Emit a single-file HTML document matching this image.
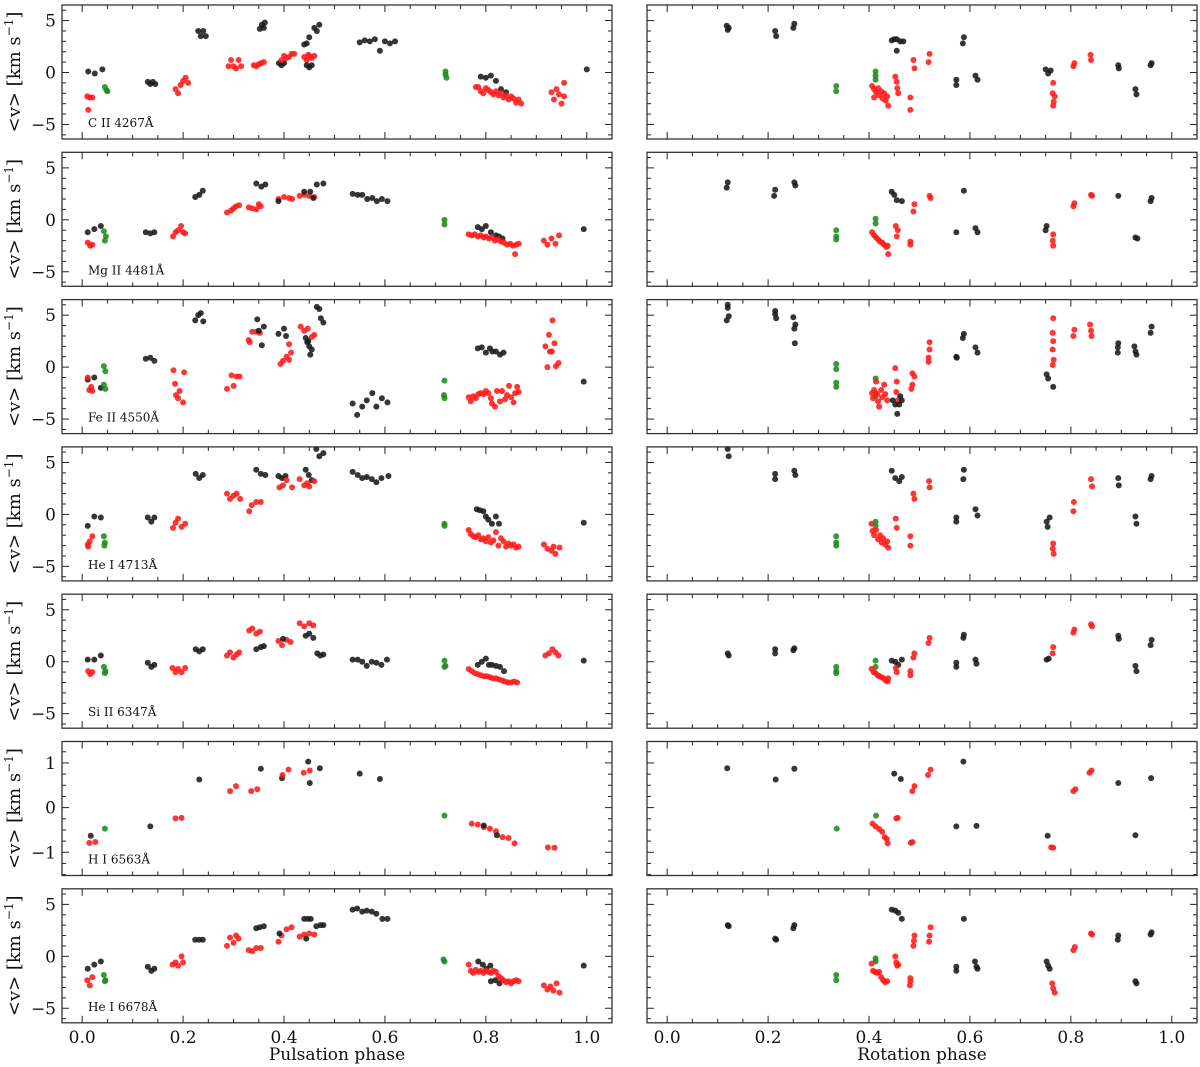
<!DOCTYPE html>
<html><head><meta charset="utf-8">
<style>
html,body{margin:0;padding:0;background:#fff;}
svg{display:block;font-family:"DejaVu Serif","Liberation Serif",serif;}
</style></head>
<body>
<svg id="fig" width="1200" height="1067" viewBox="0 0 1200 1067" xmlns="http://www.w3.org/2000/svg"></svg>
<script>
// ---------- data: [phase, velocity, colour] (k=black, r=red, g=green) ----------
const lineNames = ["C II 4267Å","Mg II 4481Å","Fe II 4550Å","He I 4713Å","Si II 6347Å","H I 6563Å","He I 6678Å"];
const xTicks = [0.0,0.2,0.4,0.6,0.8,1.0];
const xTickLabels = ["0.0","0.2","0.4","0.6","0.8","1.0"];
const yTicksV = [-5,0,5];
const yTickLabelsV = ["−5","0","5"];
const yTicksH = [-1,0,1];
const yTickLabelsH = ["−1","0","1"];

const ciiPuls = [[0.012,0.1,'k'],[0.025,-0.1,'k'],[0.04,0.3,'k'],[0.01,-2.3,'r'],[0.015,-2.4,'r'],[0.02,-2.4,'r'],[0.012,-3.6,'r'],[0.045,-1.4,'g'],[0.048,-1.7,'g'],[0.05,-1.8,'g'],
[0.13,-0.9,'k'],[0.135,-1.1,'k'],[0.14,-0.9,'k'],[0.145,-1.1,'k'],
[0.185,-1.6,'r'],[0.19,-2.0,'r'],[0.195,-1.2,'r'],[0.2,-0.8,'r'],[0.205,-0.5,'r'],[0.21,-1.0,'r'],
[0.23,4.0,'k'],[0.235,3.5,'k'],[0.24,4.0,'k'],[0.245,3.5,'k'],
[0.29,0.6,'r'],[0.295,1.2,'r'],[0.3,0.6,'r'],[0.305,0.4,'r'],[0.31,1.2,'r'],[0.315,0.6,'r'],
[0.34,0.7,'r'],[0.345,0.6,'r'],[0.35,0.8,'r'],[0.355,0.9,'r'],[0.36,1.0,'r'],
[0.352,4.2,'k'],[0.356,4.6,'k'],[0.362,4.8,'k'],[0.36,4.3,'k'],
[0.39,0.9,'k'],[0.395,0.7,'k'],[0.4,0.9,'k'],
[0.395,1.2,'r'],[0.4,1.6,'r'],[0.405,1.4,'r'],[0.41,1.5,'r'],[0.415,1.8,'r'],[0.42,1.8,'r'],
[0.44,1.5,'r'],[0.445,1.2,'r'],[0.45,1.6,'r'],[0.455,1.4,'r'],[0.46,1.6,'r'],[0.448,1.7,'r'],
[0.44,2.7,'k'],[0.445,2.8,'k'],[0.45,3.4,'k'],[0.445,0.7,'k'],[0.45,0.5,'k'],[0.455,0.7,'k'],[0.46,4.3,'k'],[0.465,4.0,'k'],[0.47,4.6,'k'],
[0.55,2.9,'k'],[0.56,3.1,'k'],[0.57,3.0,'k'],[0.58,3.2,'k'],[0.59,2.1,'k'],[0.6,3.0,'k'],[0.61,2.8,'k'],[0.62,3.0,'k'],
[0.72,-0.2,'g'],[0.72,0.1,'g'],[0.722,-0.5,'g'],
[0.79,-0.4,'k'],[0.8,-0.5,'k'],[0.81,-0.3,'k'],[0.82,-0.8,'k'],[0.83,-1.6,'k'],[0.84,-1.9,'k'],
[0.78,-1.4,'r'],[0.785,-1.4,'r'],[0.79,-1.8,'r'],[0.795,-2.0,'r'],[0.8,-1.5,'r'],[0.805,-1.7,'r'],[0.81,-1.9,'r'],[0.815,-2.1,'r'],[0.82,-1.8,'r'],[0.825,-2.2,'r'],[0.83,-2.0,'r'],[0.835,-2.4,'r'],[0.84,-2.2,'r'],[0.845,-2.6,'r'],[0.85,-2.3,'r'],[0.855,-2.5,'r'],[0.86,-2.9,'r'],[0.865,-2.6,'r'],[0.87,-3.0,'r'],
[0.93,-1.9,'r'],[0.935,-2.6,'r'],[0.94,-1.6,'r'],[0.945,-2.1,'r'],[0.95,-3.0,'r'],[0.955,-1.0,'r'],[0.955,-2.3,'r'],
[1.0,0.3,'k']];

const ciiRot = [[0.118,4.5,'k'],[0.12,4.1,'k'],[0.122,4.3,'k'],[0.214,4.0,'k'],[0.216,3.5,'k'],[0.252,4.7,'k'],[0.25,4.3,'k'],
[0.335,-1.3,'g'],[0.335,-1.8,'g'],[0.413,0.1,'g'],[0.413,-0.3,'g'],[0.413,-0.7,'g'],
[0.406,-1.3,'r'],[0.41,-1.6,'r'],[0.414,-1.9,'r'],[0.418,-1.5,'r'],[0.42,-2.2,'r'],[0.424,-1.8,'r'],[0.427,-2.5,'r'],[0.43,-2.0,'r'],[0.433,-2.7,'r'],[0.436,-2.3,'r'],[0.438,-3.2,'r'],[0.41,-2.4,'r'],
[0.452,-0.4,'r'],[0.455,-0.9,'r'],[0.456,-1.5,'r'],[0.458,-2.0,'r'],[0.482,-2.4,'r'],[0.482,-3.6,'r'],[0.488,1.2,'r'],[0.49,0.4,'r'],[0.52,1.8,'r'],[0.518,1.0,'r'],
[0.445,3.1,'k'],[0.45,3.2,'k'],[0.455,3.2,'k'],[0.462,3.0,'k'],[0.468,3.0,'k'],[0.455,2.1,'k'],
[0.573,-0.7,'k'],[0.573,-1.2,'k'],[0.588,3.4,'k'],[0.586,2.8,'k'],[0.611,-0.3,'k'],[0.615,-0.7,'k'],
[0.75,0.3,'k'],[0.755,-0.1,'k'],[0.76,0.2,'k'],[0.765,-1.0,'r'],[0.764,-2.0,'r'],[0.766,-2.8,'r'],[0.765,-3.2,'r'],[0.768,-2.3,'r'],
[0.807,0.9,'r'],[0.805,0.6,'r'],[0.839,1.7,'r'],[0.84,1.2,'r'],[0.894,0.7,'k'],[0.895,0.4,'k'],[0.928,-1.6,'k'],[0.93,-2.1,'k'],[0.96,0.9,'k'],[0.958,0.7,'k']];

const mgiiPuls = [[0.011,-1.2,'k'],[0.024,-0.9,'k'],[0.037,-0.6,'k'],[0.011,-2.2,'r'],[0.016,-2.5,'r'],[0.02,-2.4,'r'],[0.043,-1.1,'g'],[0.047,-1.6,'g'],[0.045,-2.0,'g'],
[0.126,-1.2,'k'],[0.135,-1.3,'k'],[0.143,-1.2,'k'],
[0.18,-1.6,'r'],[0.185,-1.2,'r'],[0.19,-1.0,'r'],[0.196,-0.6,'r'],[0.2,-1.2,'r'],[0.204,-1.3,'r'],
[0.224,2.2,'k'],[0.232,2.4,'k'],[0.239,2.8,'k'],
[0.287,0.7,'r'],[0.295,0.9,'r'],[0.3,1.1,'r'],[0.305,1.3,'r'],[0.311,1.4,'r'],
[0.33,1.2,'r'],[0.337,1.1,'r'],[0.345,1.0,'r'],[0.35,1.5,'r'],[0.354,1.3,'r'],
[0.345,3.5,'k'],[0.355,3.2,'k'],[0.363,3.4,'k'],
[0.389,2.0,'r'],[0.4,2.2,'r'],[0.41,2.1,'r'],[0.416,2.0,'r'],[0.389,1.8,'k'],
[0.431,2.3,'r'],[0.44,2.4,'r'],[0.45,2.3,'r'],[0.46,2.2,'r'],
[0.44,2.7,'k'],[0.452,2.7,'k'],[0.458,2.1,'k'],[0.465,3.4,'k'],[0.478,3.5,'k'],
[0.536,2.5,'k'],[0.546,2.4,'k'],[0.555,2.4,'k'],[0.565,2.0,'k'],[0.575,2.1,'k'],[0.584,1.8,'k'],[0.594,2.0,'k'],[0.605,1.8,'k'],
[0.718,0.0,'g'],[0.718,-0.45,'g'],
[0.784,-0.7,'k'],[0.792,-0.9,'k'],[0.8,-0.6,'k'],[0.81,-1.2,'k'],[0.82,-1.5,'k'],[0.826,-1.6,'k'],[0.833,-1.8,'k'],
[0.766,-1.4,'r'],[0.772,-1.5,'r'],[0.778,-1.4,'r'],[0.784,-1.6,'r'],[0.79,-1.5,'r'],[0.796,-1.7,'r'],[0.8,-1.6,'r'],[0.806,-1.8,'r'],[0.812,-1.7,'r'],[0.818,-2.0,'r'],[0.824,-1.9,'r'],[0.83,-2.1,'r'],[0.836,-2.2,'r'],[0.842,-2.4,'r'],[0.848,-2.3,'r'],[0.854,-2.5,'r'],[0.86,-2.4,'r'],[0.865,-2.3,'r'],[0.858,-3.3,'r'],
[0.915,-2.0,'r'],[0.922,-2.4,'r'],[0.93,-1.8,'r'],[0.938,-2.3,'r'],[0.945,-1.5,'r'],
[0.994,-0.9,'k']];

const mgiiRot = [[0.12,3.6,'k'],[0.118,3.1,'k'],[0.214,2.9,'k'],[0.212,2.3,'k'],[0.252,3.6,'k'],[0.254,3.3,'k'],
[0.335,-1.0,'g'],[0.335,-1.6,'g'],[0.335,-1.9,'g'],[0.413,0.1,'g'],[0.413,-0.35,'g'],
[0.406,-1.2,'r'],[0.41,-1.5,'r'],[0.414,-1.7,'r'],[0.418,-1.9,'r'],[0.422,-2.1,'r'],[0.426,-2.2,'r'],[0.43,-2.4,'r'],[0.434,-2.6,'r'],[0.437,-2.5,'r'],[0.438,-3.3,'r'],
[0.453,-0.6,'r'],[0.455,-1.6,'r'],[0.457,-1.0,'r'],[0.482,-2.1,'r'],[0.482,-2.4,'r'],[0.49,1.5,'r'],[0.488,0.8,'r'],[0.52,2.3,'r'],[0.522,2.1,'r'],
[0.445,2.7,'k'],[0.45,2.4,'k'],[0.455,1.9,'k'],[0.465,1.8,'k'],
[0.588,2.8,'k'],[0.573,-1.2,'k'],[0.611,-0.8,'k'],[0.615,-1.2,'k'],[0.752,-0.6,'k'],[0.75,-1.0,'k'],
[0.765,-1.4,'r'],[0.764,-2.0,'r'],[0.765,-2.5,'r'],[0.807,1.6,'r'],[0.805,1.3,'r'],[0.84,2.4,'r'],[0.842,2.3,'r'],
[0.894,2.3,'k'],[0.928,-1.7,'k'],[0.932,-1.8,'k'],[0.96,2.1,'k'],[0.958,1.8,'k']];

const feiiPuls = [[0.011,-1.2,'k'],[0.024,-1.0,'k'],[0.037,-2.0,'k'],[0.011,-1.0,'r'],[0.014,-2.2,'r'],[0.02,-2.3,'r'],[0.018,-1.9,'r'],[0.043,0.1,'g'],[0.046,-0.4,'g'],[0.043,-1.7,'g'],[0.046,-2.1,'g'],
[0.126,0.8,'k'],[0.135,0.9,'k'],[0.143,0.6,'k'],
[0.181,-0.3,'r'],[0.184,-1.6,'r'],[0.186,-2.7,'r'],[0.193,-2.3,'r'],[0.2,-3.4,'r'],[0.202,-0.5,'r'],[0.19,-3.0,'r'],
[0.224,4.5,'k'],[0.23,5.0,'k'],[0.235,5.2,'k'],[0.24,4.4,'k'],
[0.287,-2.1,'r'],[0.296,-0.8,'r'],[0.3,-1.8,'r'],[0.306,-0.9,'r'],[0.312,-0.9,'r'],
[0.33,2.6,'r'],[0.332,2.4,'r'],[0.337,3.4,'r'],[0.345,3.4,'r'],[0.352,3.3,'r'],
[0.347,4.6,'k'],[0.35,3.5,'k'],[0.356,2.1,'k'],[0.36,3.9,'k'],
[0.389,3.2,'k'],[0.4,3.7,'k'],[0.404,3.0,'k'],
[0.393,0.3,'r'],[0.398,0.6,'r'],[0.405,1.0,'r'],[0.41,0.7,'r'],[0.41,2.2,'r'],[0.414,1.4,'r'],
[0.433,3.9,'r'],[0.44,3.5,'r'],[0.447,3.7,'r'],[0.455,2.9,'r'],[0.46,3.1,'r'],
[0.443,2.8,'k'],[0.446,2.4,'k'],[0.45,2.0,'k'],[0.455,1.7,'k'],[0.452,1.2,'k'],[0.448,2.5,'k'],
[0.465,5.8,'k'],[0.47,5.6,'k'],[0.473,4.7,'k'],[0.478,4.3,'k'],
[0.536,-3.5,'k'],[0.545,-4.6,'k'],[0.555,-3.8,'k'],[0.564,-3.2,'k'],[0.575,-2.5,'k'],[0.583,-3.8,'k'],[0.594,-3.0,'k'],[0.605,-3.4,'k'],
[0.718,-1.3,'g'],[0.717,-2.7,'g'],[0.718,-3.0,'g'],
[0.784,1.8,'k'],[0.792,1.9,'k'],[0.8,1.4,'k'],[0.808,1.8,'k'],[0.813,1.5,'k'],[0.82,1.5,'k'],[0.828,1.2,'k'],[0.835,1.4,'k'],
[0.766,-2.9,'r'],[0.77,-3.3,'r'],[0.775,-2.8,'r'],[0.78,-3.0,'r'],[0.785,-2.6,'r'],[0.79,-2.5,'r'],[0.795,-2.6,'r'],[0.8,-2.3,'r'],[0.805,-2.5,'r'],[0.81,-3.0,'r'],[0.812,-3.5,'r'],[0.818,-3.8,'r'],[0.822,-2.3,'r'],[0.828,-3.3,'r'],[0.832,-2.3,'r'],[0.838,-3.1,'r'],[0.842,-2.7,'r'],[0.846,-1.8,'r'],[0.85,-2.9,'r'],[0.855,-3.4,'r'],[0.858,-2.5,'r'],[0.862,-1.9,'r'],[0.865,-2.4,'r'],
[0.918,2.0,'r'],[0.922,0.0,'r'],[0.925,3.1,'r'],[0.927,1.5,'r'],[0.932,4.5,'r'],[0.936,2.3,'r'],[0.931,1.5,'r'],[0.939,0.1,'r'],[0.944,0.4,'r'],
[0.994,-1.4,'k']];

const feiiRot = [[0.12,6.0,'k'],[0.12,5.7,'k'],[0.122,4.9,'k'],[0.118,4.5,'k'],[0.214,5.4,'k'],[0.214,5.1,'k'],[0.216,4.7,'k'],[0.25,4.8,'k'],[0.254,4.1,'k'],[0.252,3.7,'k'],[0.253,2.3,'k'],
[0.335,0.3,'g'],[0.335,-0.2,'g'],[0.335,-1.5,'g'],[0.335,-1.9,'g'],[0.413,-1.1,'g'],[0.413,-2.5,'g'],[0.413,-2.8,'g'],
[0.406,-2.5,'r'],[0.408,-3.0,'r'],[0.41,-2.2,'r'],[0.414,-1.4,'r'],[0.416,-2.6,'r'],[0.418,-3.3,'r'],[0.42,-3.8,'r'],[0.424,-2.2,'r'],[0.426,-2.9,'r'],[0.43,-1.7,'r'],[0.432,-2.6,'r'],[0.436,-3.2,'r'],
[0.452,-0.1,'r'],[0.455,-1.4,'r'],[0.454,-2.4,'r'],[0.457,-3.2,'r'],
[0.447,-3.2,'k'],[0.452,-3.6,'k'],[0.456,-4.5,'k'],[0.46,-3.6,'k'],[0.465,-3.2,'k'],[0.462,-2.8,'k'],
[0.486,-0.6,'r'],[0.49,-0.9,'r'],[0.486,-1.7,'r'],[0.484,-2.1,'r'],
[0.52,2.4,'r'],[0.52,1.7,'r'],[0.518,0.9,'r'],[0.518,0.5,'r'],
[0.573,1.0,'k'],[0.574,0.9,'k'],[0.588,3.2,'k'],[0.586,2.8,'k'],[0.611,1.9,'k'],[0.615,1.4,'k'],
[0.752,-0.7,'k'],[0.755,-1.1,'k'],[0.765,-1.9,'k'],
[0.765,4.7,'r'],[0.764,3.3,'r'],[0.765,2.5,'r'],[0.764,1.7,'r'],[0.766,0.7,'r'],[0.764,0.2,'r'],
[0.807,3.6,'r'],[0.805,3.0,'r'],[0.838,4.1,'r'],[0.84,3.5,'r'],[0.841,3.0,'r'],
[0.894,2.3,'k'],[0.893,1.9,'k'],[0.893,1.4,'k'],[0.926,2.0,'k'],[0.928,1.5,'k'],[0.93,1.2,'k'],[0.96,3.9,'k'],[0.958,3.3,'k']];

const hei4713Puls = [[0.011,-1.1,'k'],[0.024,-0.2,'k'],[0.037,-0.3,'k'],[0.011,-2.9,'r'],[0.015,-2.6,'r'],[0.02,-2.1,'r'],[0.012,-3.1,'r'],[0.043,-2.1,'g'],[0.045,-2.7,'g'],[0.044,-3.0,'g'],
[0.13,-0.3,'k'],[0.137,-0.7,'k'],[0.143,-0.3,'k'],
[0.18,-1.3,'r'],[0.185,-0.8,'r'],[0.19,-0.4,'r'],[0.197,-1.2,'r'],[0.204,-0.9,'r'],
[0.225,3.9,'k'],[0.232,3.5,'k'],[0.239,3.8,'k'],
[0.287,2.0,'r'],[0.293,1.5,'r'],[0.3,1.8,'r'],[0.306,2.0,'r'],[0.313,1.5,'r'],
[0.331,0.3,'r'],[0.336,0.9,'r'],[0.345,1.2,'r'],[0.354,1.2,'r'],
[0.345,4.3,'k'],[0.354,3.9,'k'],[0.363,3.8,'k'],
[0.389,3.7,'k'],[0.396,3.5,'k'],[0.403,3.7,'k'],
[0.391,2.6,'r'],[0.398,2.8,'r'],[0.405,3.3,'r'],[0.416,2.6,'r'],
[0.443,4.3,'k'],[0.449,3.8,'k'],[0.455,3.3,'k'],
[0.431,3.4,'r'],[0.44,2.8,'r'],[0.45,2.7,'r'],[0.46,3.2,'r'],[0.446,3.0,'r'],
[0.464,6.3,'k'],[0.47,5.6,'k'],[0.478,5.9,'k'],
[0.536,4.1,'k'],[0.546,3.8,'k'],[0.555,3.5,'k'],[0.564,3.6,'k'],[0.574,3.4,'k'],[0.583,3.1,'k'],[0.593,3.5,'k'],[0.607,3.7,'k'],
[0.718,-0.9,'g'],[0.718,-1.1,'g'],
[0.782,0.5,'k'],[0.788,0.4,'k'],[0.795,0.3,'k'],[0.8,-0.2,'k'],[0.805,-0.5,'k'],[0.812,-0.9,'k'],[0.82,-0.2,'k'],[0.826,-0.9,'k'],
[0.766,-1.5,'r'],[0.77,-1.9,'r'],[0.775,-2.1,'r'],[0.78,-2.2,'r'],[0.785,-2.0,'r'],[0.79,-2.4,'r'],[0.795,-2.3,'r'],[0.8,-2.6,'r'],[0.805,-2.2,'r'],[0.81,-2.7,'r'],[0.815,-2.5,'r'],[0.82,-1.7,'r'],[0.825,-3.0,'r'],[0.83,-2.3,'r'],[0.835,-2.6,'r'],[0.84,-3.1,'r'],[0.845,-2.8,'r'],[0.85,-3.0,'r'],[0.855,-2.9,'r'],[0.86,-3.2,'r'],[0.865,-3.1,'r'],
[0.915,-2.9,'r'],[0.922,-3.3,'r'],[0.93,-3.5,'r'],[0.938,-3.8,'r'],[0.946,-3.2,'r'],[0.934,-3.1,'r'],
[0.994,-0.8,'k']];

const hei4713Rot = [[0.12,6.3,'k'],[0.122,5.6,'k'],[0.214,3.9,'k'],[0.214,3.4,'k'],[0.252,4.2,'k'],[0.254,3.8,'k'],
[0.335,-2.1,'g'],[0.335,-2.7,'g'],[0.335,-3.0,'g'],[0.413,-0.7,'g'],[0.413,-1.1,'g'],
[0.405,-0.9,'r'],[0.407,-1.6,'r'],[0.41,-2.0,'r'],[0.414,-1.5,'r'],[0.418,-2.4,'r'],[0.422,-2.0,'r'],[0.425,-2.7,'r'],[0.428,-2.3,'r'],[0.432,-2.9,'r'],[0.436,-2.6,'r'],[0.438,-3.2,'r'],
[0.453,-0.4,'r'],[0.455,-1.3,'r'],[0.482,-2.1,'r'],[0.482,-3.0,'r'],[0.488,2.0,'r'],[0.49,1.5,'r'],[0.519,3.2,'r'],[0.52,2.6,'r'],
[0.445,4.2,'k'],[0.452,3.5,'k'],[0.46,3.2,'k'],[0.465,3.6,'k'],
[0.573,-0.3,'k'],[0.573,-0.7,'k'],[0.588,4.3,'k'],[0.587,3.4,'k'],[0.611,0.5,'k'],[0.615,-0.1,'k'],
[0.752,-0.7,'k'],[0.754,-1.2,'k'],[0.758,-0.3,'k'],[0.765,-2.8,'r'],[0.764,-3.3,'r'],[0.766,-3.8,'r'],
[0.806,1.2,'r'],[0.805,0.3,'r'],[0.84,3.4,'r'],[0.842,2.7,'r'],[0.894,3.5,'k'],[0.895,2.8,'k'],[0.928,-0.2,'k'],[0.93,-0.9,'k'],[0.96,3.7,'k'],[0.958,3.4,'k']];

const siiiPuls = [[0.011,0.2,'k'],[0.024,0.2,'k'],[0.037,0.6,'k'],[0.012,-0.9,'r'],[0.016,-1.2,'r'],[0.02,-1.0,'r'],[0.043,-0.5,'g'],[0.046,-0.9,'g'],[0.045,-1.1,'g'],
[0.13,-0.1,'k'],[0.137,-0.5,'k'],[0.143,-0.3,'k'],
[0.179,-0.6,'r'],[0.185,-1.0,'r'],[0.19,-0.7,'r'],[0.197,-1.0,'r'],[0.204,-0.6,'r'],
[0.225,1.2,'k'],[0.232,1.0,'k'],[0.239,1.2,'k'],
[0.287,0.6,'r'],[0.293,0.9,'r'],[0.3,0.4,'r'],[0.306,0.7,'r'],[0.311,0.9,'r'],
[0.331,3.0,'r'],[0.337,3.2,'r'],[0.345,2.7,'r'],[0.352,2.9,'r'],
[0.345,1.2,'k'],[0.354,1.4,'k'],[0.36,1.5,'k'],
[0.389,2.0,'r'],[0.396,1.6,'r'],[0.405,2.1,'r'],[0.413,1.9,'r'],[0.398,2.2,'k'],
[0.431,3.7,'r'],[0.44,3.4,'r'],[0.45,3.7,'r'],[0.458,3.5,'r'],
[0.443,2.5,'k'],[0.45,2.7,'k'],[0.458,2.3,'k'],
[0.466,0.8,'k'],[0.472,0.6,'k'],[0.478,0.7,'k'],
[0.536,0.2,'k'],[0.546,0.2,'k'],[0.555,0.0,'k'],[0.564,-0.4,'k'],[0.574,0.0,'k'],[0.583,-0.1,'k'],[0.593,-0.3,'k'],[0.604,0.2,'k'],
[0.718,0.1,'g'],[0.718,-0.5,'g'],[0.72,-0.4,'g'],
[0.784,-0.3,'k'],[0.792,0.0,'k'],[0.8,0.3,'k'],[0.806,-0.3,'k'],[0.812,-0.3,'k'],[0.82,-0.4,'k'],[0.828,-0.5,'k'],[0.836,-0.9,'k'],
[0.766,-0.7,'r'],[0.772,-0.9,'r'],[0.778,-1.1,'r'],[0.784,-1.2,'r'],[0.79,-1.3,'r'],[0.796,-1.4,'r'],[0.802,-1.4,'r'],[0.808,-1.5,'r'],[0.814,-1.6,'r'],[0.82,-1.6,'r'],[0.826,-1.7,'r'],[0.832,-1.8,'r'],[0.838,-1.9,'r'],[0.844,-2.0,'r'],[0.85,-2.0,'r'],[0.856,-1.9,'r'],[0.862,-2.0,'r'],
[0.918,0.6,'r'],[0.925,0.8,'r'],[0.932,1.2,'r'],[0.938,0.9,'r'],[0.944,0.6,'r'],
[0.994,0.1,'k']];

const siiiRot = [[0.12,0.8,'k'],[0.122,0.6,'k'],[0.214,1.2,'k'],[0.214,0.8,'k'],[0.252,1.3,'k'],[0.25,1.1,'k'],
[0.335,-0.5,'g'],[0.335,-0.9,'g'],[0.335,-1.1,'g'],[0.413,0.1,'g'],[0.413,-0.5,'g'],
[0.405,-0.7,'r'],[0.409,-1.0,'r'],[0.413,-1.1,'r'],[0.417,-1.3,'r'],[0.421,-1.4,'r'],[0.425,-1.5,'r'],[0.429,-1.6,'r'],[0.433,-1.8,'r'],[0.437,-1.9,'r'],[0.438,-1.6,'r'],
[0.445,0.1,'k'],[0.452,0.0,'k'],[0.458,-0.3,'k'],[0.465,0.2,'k'],
[0.453,-0.6,'r'],[0.455,-1.0,'r'],[0.482,-0.9,'r'],[0.482,-1.3,'r'],[0.49,0.8,'r'],[0.488,0.4,'r'],[0.52,2.3,'r'],[0.518,1.8,'r'],
[0.573,-0.1,'k'],[0.573,-0.5,'k'],[0.588,2.6,'k'],[0.587,2.3,'k'],[0.611,0.2,'k'],[0.613,-0.2,'k'],
[0.752,0.2,'k'],[0.756,0.3,'k'],[0.765,1.4,'r'],[0.764,0.8,'r'],[0.807,3.1,'r'],[0.805,2.8,'r'],[0.84,3.6,'r'],[0.842,3.4,'r'],
[0.894,2.5,'k'],[0.895,2.2,'k'],[0.928,-0.4,'k'],[0.93,-0.9,'k'],[0.96,2.1,'k'],[0.958,1.6,'k']];

const hiPuls = [[0.017,-0.63,'k'],[0.014,-0.79,'r'],[0.026,-0.77,'r'],[0.045,-0.47,'g'],[0.135,-0.42,'k'],[0.185,-0.24,'r'],[0.197,-0.23,'r'],[0.232,0.63,'k'],
[0.293,0.37,'r'],[0.305,0.48,'r'],[0.335,0.37,'r'],[0.347,0.41,'r'],[0.354,0.87,'k'],[0.396,0.66,'k'],[0.397,0.73,'r'],[0.409,0.85,'r'],
[0.439,0.78,'r'],[0.451,0.83,'r'],[0.448,1.03,'k'],[0.451,0.55,'k'],[0.471,0.88,'k'],[0.55,0.76,'k'],[0.59,0.64,'k'],[0.718,-0.18,'g'],
[0.772,-0.36,'r'],[0.784,-0.38,'r'],[0.796,-0.44,'r'],[0.808,-0.47,'r'],[0.82,-0.53,'r'],[0.833,-0.66,'r'],[0.845,-0.68,'r'],[0.857,-0.8,'r'],
[0.796,-0.4,'k'],[0.822,-0.62,'k'],[0.923,-0.89,'r'],[0.936,-0.9,'r']];

const hiRot = [[0.119,0.88,'k'],[0.215,0.63,'k'],[0.252,0.87,'k'],[0.336,-0.47,'g'],[0.414,-0.18,'g'],
[0.407,-0.36,'r'],[0.413,-0.42,'r'],[0.42,-0.48,'r'],[0.426,-0.54,'r'],[0.431,-0.66,'r'],[0.435,-0.7,'r'],[0.437,-0.8,'r'],
[0.454,-0.24,'r'],[0.457,-0.23,'r'],[0.483,-0.79,'r'],[0.486,-0.77,'r'],[0.486,0.37,'r'],[0.49,0.48,'r'],[0.517,0.73,'r'],[0.522,0.85,'r'],
[0.45,0.76,'k'],[0.463,0.64,'k'],[0.573,-0.42,'k'],[0.587,1.03,'k'],[0.613,-0.41,'k'],[0.754,-0.63,'k'],[0.761,-0.89,'r'],[0.765,-0.9,'r'],
[0.805,0.37,'r'],[0.809,0.41,'r'],[0.837,0.78,'r'],[0.841,0.83,'r'],[0.894,0.55,'k'],[0.928,-0.62,'k'],[0.959,0.66,'k']];

const hei6678Puls = [[0.011,-1.2,'k'],[0.024,-0.8,'k'],[0.037,-0.5,'k'],[0.01,-2.3,'r'],[0.015,-2.8,'r'],[0.02,-2.0,'r'],[0.043,-1.8,'g'],[0.046,-2.3,'g'],[0.045,-2.4,'g'],
[0.13,-1.0,'k'],[0.137,-1.4,'k'],[0.143,-1.2,'k'],
[0.179,-0.8,'r'],[0.185,-0.6,'r'],[0.19,-0.9,'r'],[0.197,0.0,'r'],[0.2,-0.6,'r'],
[0.224,1.6,'k'],[0.232,1.6,'k'],[0.239,1.6,'k'],
[0.287,1.0,'r'],[0.293,1.8,'r'],[0.3,1.3,'r'],[0.305,2.0,'r'],[0.31,1.7,'r'],
[0.33,0.6,'r'],[0.337,0.5,'r'],[0.345,0.8,'r'],[0.354,0.8,'r'],
[0.345,2.7,'k'],[0.352,2.8,'k'],[0.36,2.9,'k'],
[0.389,1.4,'r'],[0.395,2.0,'r'],[0.405,2.6,'r'],[0.415,2.8,'r'],[0.391,2.2,'k'],
[0.44,3.6,'k'],[0.447,3.6,'k'],[0.453,3.6,'k'],
[0.431,1.9,'r'],[0.44,2.1,'r'],[0.45,2.2,'r'],[0.46,2.1,'r'],[0.444,1.7,'k'],
[0.464,2.9,'k'],[0.472,3.0,'k'],[0.478,3.0,'k'],
[0.536,4.5,'k'],[0.545,4.6,'k'],[0.555,4.3,'k'],[0.564,4.4,'k'],[0.574,4.3,'k'],[0.583,4.1,'k'],[0.595,3.6,'k'],[0.605,3.6,'k'],
[0.716,-0.3,'g'],[0.718,-0.5,'g'],
[0.785,-0.5,'k'],[0.794,-0.8,'k'],[0.801,-1.2,'k'],[0.809,-0.9,'k'],[0.81,-2.4,'k'],[0.819,-2.3,'k'],[0.827,-2.6,'k'],
[0.766,-0.8,'r'],[0.77,-1.4,'r'],[0.775,-1.6,'r'],[0.78,-1.3,'r'],[0.785,-1.5,'r'],[0.79,-1.4,'r'],[0.795,-1.6,'r'],[0.8,-1.4,'r'],[0.805,-1.5,'r'],[0.81,-1.6,'r'],[0.815,-1.4,'r'],[0.82,-1.5,'r'],[0.825,-1.9,'r'],[0.83,-2.1,'r'],[0.835,-2.3,'r'],[0.84,-2.5,'r'],[0.845,-2.4,'r'],[0.85,-2.6,'r'],[0.855,-2.4,'r'],[0.86,-2.3,'r'],[0.865,-2.4,'r'],
[0.915,-2.8,'r'],[0.922,-3.2,'r'],[0.928,-2.9,'r'],[0.934,-3.3,'r'],[0.94,-2.6,'r'],[0.946,-3.5,'r'],
[0.994,-0.9,'k']];

const hei6678Rot = [[0.12,3.0,'k'],[0.122,2.9,'k'],[0.214,1.7,'k'],[0.216,1.6,'k'],[0.252,3.0,'k'],[0.25,2.7,'k'],
[0.335,-1.8,'g'],[0.335,-2.3,'g'],[0.413,-0.2,'g'],[0.413,-0.5,'g'],
[0.405,-0.7,'r'],[0.408,-1.4,'r'],[0.412,-1.5,'r'],[0.416,-1.6,'r'],[0.42,-1.5,'r'],[0.424,-2.0,'r'],[0.428,-2.3,'r'],[0.432,-2.5,'r'],[0.436,-2.4,'r'],
[0.452,0.0,'r'],[0.454,-0.6,'r'],[0.456,-0.9,'r'],[0.458,-0.8,'r'],[0.482,-2.1,'r'],[0.482,-2.4,'r'],[0.481,-2.8,'r'],
[0.488,1.0,'r'],[0.489,1.5,'r'],[0.49,2.0,'r'],[0.519,1.4,'r'],[0.52,2.0,'r'],[0.522,2.8,'r'],
[0.445,4.5,'k'],[0.452,4.4,'k'],[0.458,4.2,'k'],[0.465,3.6,'k'],
[0.573,-1.0,'k'],[0.573,-1.4,'k'],[0.588,3.6,'k'],[0.61,-0.5,'k'],[0.613,-1.0,'k'],[0.615,-1.2,'k'],
[0.752,-0.5,'k'],[0.755,-0.9,'k'],[0.758,-1.2,'k'],[0.763,-2.6,'r'],[0.765,-3.1,'r'],[0.768,-3.5,'r'],
[0.805,0.6,'r'],[0.808,0.9,'r'],[0.84,2.2,'r'],[0.842,2.1,'r'],[0.894,2.0,'k'],[0.893,1.6,'k'],[0.928,-2.4,'k'],[0.93,-2.6,'k'],[0.96,2.3,'k'],[0.958,2.1,'k']];

const pulsSets = [ciiPuls, mgiiPuls, feiiPuls, hei4713Puls, siiiPuls, hiPuls, hei6678Puls];
const rotSets  = [ciiRot, mgiiRot, feiiRot, hei4713Rot, siiiRot, hiRot, hei6678Rot];

// ---------- drawing ----------
const NS = "http://www.w3.org/2000/svg";
const svg = document.getElementById('fig');
const X_MIN = -0.04, X_MAX = 1.05;
const colsX = [62, 647], PW = 550, PH = 134;
function mk(tag, attrs, parent){ const e=document.createElementNS(NS,tag); for(const k in attrs) e.setAttribute(k,attrs[k]); (parent||svg).appendChild(e); return e; }
const colorMap = {k:'#1a1a1a', r:'#ff1a1a', g:'#1e8a1e'};

for (let row=0; row<7; row++){
  const top = 5 + 147.3*row;
  const isH = row===5;
  const yMin = isH ? -1.52 : -6.4, yMax = isH ? 1.48 : 6.5;
  const minorStep = isH ? 0.25 : 1;
  for (let col=0; col<2; col++){
    const left = colsX[col];
    const xs = p => left + (p - X_MIN)/(X_MAX - X_MIN)*PW;
    const ys = v => top + (yMax - v)/(yMax - yMin)*PH;
    const g = mk('g', {});
    
    
    for (let i=0;i<=21;i++){
      const p = i*0.05; if (p > X_MAX) break;
      const x = xs(p), len = (i%4===0)?7:4;
      mk('line',{x1:x,y1:top+PH,x2:x,y2:top+PH-len,stroke:'#222','stroke-width':1},g);
      mk('line',{x1:x,y1:top,x2:x,y2:top+len,stroke:'#222','stroke-width':1},g);
    }
    for (let v=Math.ceil(yMin/minorStep)*minorStep; v<=yMax+1e-9; v+=minorStep){
      const y = ys(v);
      const major = isH ? Math.abs(v-Math.round(v))<1e-6 : Math.abs(v%5)<1e-6;
      const len = major?7:4;
      mk('line',{x1:left,y1:y,x2:left+len,y2:y,stroke:'#222','stroke-width':1},g);
      mk('line',{x1:left+PW,y1:y,x2:left+PW-len,y2:y,stroke:'#222','stroke-width':1},g);
    }
    const set = col===0 ? pulsSets[row] : rotSets[row];
    set.forEach(d=>{
      const c = mk('circle',{cx:xs(d[0]),cy:ys(d[1]),r:3,fill:colorMap[d[2]],'fill-opacity':0.88},g);
      
      
    });
    const fr = mk('rect',{x:left,y:top,width:PW,height:PH,fill:'none',stroke:'#333','stroke-width':1.3},g);
    
    
    if (col===0){
      const ticks = isH ? yTicksH : yTicksV, labs = isH ? yTickLabelsH : yTickLabelsV;
      ticks.forEach((v,i)=>{
        const t = mk('text',{x:left-6,y:ys(v)+6,'text-anchor':'end','font-size':17,fill:'#111'},g);
        t.textContent = labs[i];
        
        
      });
      const cy = top + PH/2;
      const yl = mk('text',{x:0,y:0,'text-anchor':'middle','font-size':18,fill:'#111',transform:`translate(20,${cy}) rotate(-90)`},g);
      yl.innerHTML = '&lt;v&gt; [km s<tspan dy="-7" font-size="12">−1</tspan><tspan dy="7">]</tspan>';
      
      
      const nl = mk('text',{x:88,y:top+122,'font-size':12,fill:'#111'},g);
      nl.textContent = lineNames[row];
      
      
    }
    if (row===6){
      xTicks.forEach((p,i)=>{
        const t = mk('text',{x:xs(p),y:top+PH+20,'text-anchor':'middle','font-size':17,fill:'#111'},g);
        t.textContent = xTickLabels[i];
        
        
      });
      const xt = mk('text',{x:left+PW/2,y:top+PH+37,'text-anchor':'middle','font-size':17,fill:'#111'},g);
      xt.textContent = col===0 ? 'Pulsation phase' : 'Rotation phase';
      
      
    }
  }
}
</script>
</body></html>
